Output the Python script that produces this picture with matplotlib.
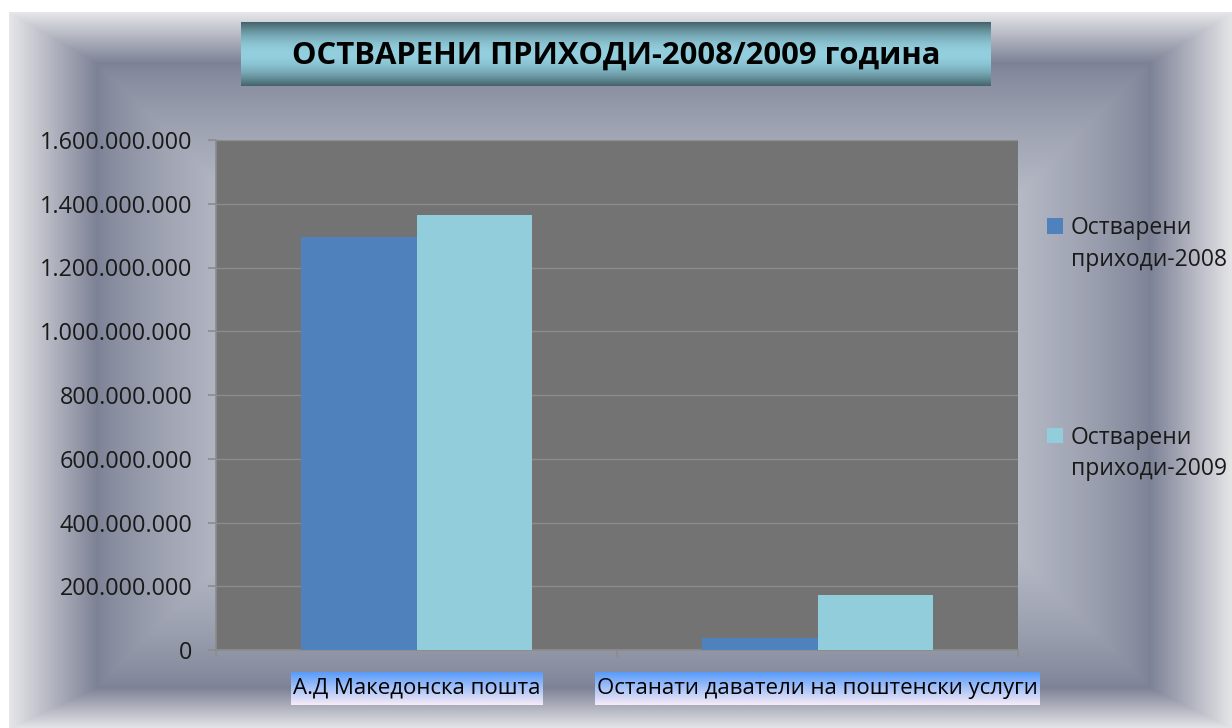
import numpy as np
import matplotlib
matplotlib.use("Agg")
import matplotlib.pyplot as plt
from matplotlib.colors import to_rgb
from matplotlib.ticker import FuncFormatter, FixedLocator

# ---------------- data ----------------
categories = ["А.Д Македонска пошта", "Останати даватели на поштенски услуги"]
series_names = ["Остварени приходи-2008", "Остварени приходи-2009"]
values_2008 = [1295000000, 37000000]
values_2009 = [1365000000, 172000000]
y_ticks = [0, 200000000, 400000000, 600000000, 800000000, 1000000000,
           1200000000, 1400000000, 1600000000]
title = "ОСТВАРЕНИ ПРИХОДИ-2008/2009 година"

plt.rcParams['font.family'] = ['Open Sans', 'DejaVu Sans']

W, H = 1232, 728
DPI = 100
fig = plt.figure(figsize=(W / DPI, H / DPI), dpi=DPI, facecolor='white')

def fx(px):
    return px / W

def fy(py):
    return 1 - py / H

# ---------------- background bevel gradient ----------------
yy, xx = np.mgrid[0:H, 0:W].astype(float)
x0, x1, y0, y1 = 9, 1232, 12, 728
xi0, xi1, yi0, yi1 = 97, 1149, 63, 687
outer = np.array(to_rgb('#e6e6e9'))
dark = np.array(to_rgb('#7c8195'))
center = np.array(to_rgb('#b5b9c5'))
u = np.minimum.reduce([(xx - x0) / (xi0 - x0), (x1 - xx) / (x1 - xi1),
                       (yy - y0) / (yi0 - y0), (y1 - yy) / (y1 - yi1)])
v = np.minimum.reduce([xx - xi0, xi1 - xx, yy - yi0, yi1 - yy]) / 130.0
img = np.ones((H, W, 3))
band = (u >= 0) & (u < 1)
ub = np.clip(u, 0, 1)[..., None]
col_band = outer + (dark - outer) * ub
vb = np.clip(v, 0, 1)[..., None] ** 0.75
col_in = dark + (center - dark) * vb
inside = u >= 1
img[band] = col_band[band]
img[inside] = col_in[inside]
bg = fig.add_axes([0, 0, 1, 1], zorder=-10)
bg.imshow(img, aspect='auto', extent=[0, 1, 0, 1], interpolation='bilinear')
bg.set_axis_off()

# ---------------- title box ----------------
tb = fig.add_axes([fx(241), fy(86), fx(991) - fx(241), fy(22) - fy(86)], zorder=1)
t = np.linspace(0, 1, 64)
prof = np.sin(np.pi * t) ** 0.9
tdark = np.array(to_rgb('#44636b'))
tlight = np.array(to_rgb('#93cfde'))
tgrad = tdark + (tlight - tdark) * prof[:, None]
tb.imshow(tgrad[:, None, :].repeat(4, axis=1), aspect='auto',
          extent=[0, 1, 0, 1], interpolation='bilinear')
tb.set_axis_off()
fig.text(fx(616), fy(56), title, ha='center', va='center', fontsize=22.3,
         fontweight='bold', color='black', zorder=5,
         family=['Open Sans', 'DejaVu Sans'])

# ---------------- main plot ----------------
ax = fig.add_axes([fx(216), fy(650), fx(1018) - fx(216), fy(140) - fy(650)], zorder=2)
ax.set_facecolor('#737373')
x = np.arange(len(categories))
w = 0.287
b1 = ax.bar(x - w / 2, values_2008, w, color='#4f81bd', label=series_names[0], zorder=3)
b2 = ax.bar(x + w / 2, values_2009, w, color='#92cddc', label=series_names[1], zorder=3)
ax.set_xlim(-0.5, len(categories) - 0.5)
ax.set_ylim(0, 1600000000)
ax.set_yticks(y_ticks)
ax.yaxis.set_major_formatter(FuncFormatter(lambda v, p: f"{int(v):,}".replace(',', '.')))
ax.yaxis.grid(True, color='#8c8c8c', lw=1.0)
ax.set_axisbelow(True)
for s in ['top', 'right']:
    ax.spines[s].set_visible(False)
for s in ['left', 'bottom']:
    ax.spines[s].set_color('#8c8c8c')
    ax.spines[s].set_linewidth(1.2)
ax.tick_params(axis='y', length=6, width=1.2, color='#8c8c8c', pad=11,
               labelsize=16.8, labelcolor='#1a1a1a')
ax.set_xticks(x)
ax.set_xticklabels(categories)
ax.xaxis.set_minor_locator(FixedLocator([-0.5, 0.5, 1.5]))
ax.tick_params(axis='x', which='major', length=0, pad=20, labelsize=16, labelcolor='black')
ax.tick_params(axis='x', which='minor', length=5, width=1.2, color='#8c8c8c')

# legend
leg = ax.legend([b1, b2], ["Остварени", "Остварени"], loc='upper left',
                bbox_to_anchor=(fx(1047), fy(216)), bbox_transform=fig.transFigure,
                frameon=False, fontsize=16.5, handlelength=0.68, handleheight=0.68,
                handletextpad=0.35, labelspacing=8.1, borderpad=0, borderaxespad=0)
for txt, name in zip(leg.get_texts(), series_names):
    txt.set_color('#1a1a1a')
    ax.annotate(name.split(' ', 1)[1], xy=(0, 0), xycoords=txt, xytext=(0, -5.5),
                textcoords='offset points', va='top', ha='left', fontsize=16.5,
                color='#1a1a1a', annotation_clip=False)

# gradient boxes behind category labels
fig.canvas.draw()
renderer = fig.canvas.get_renderer()
lab_top = np.array(to_rgb('#5a9cfa'))
lab_bot = np.array(to_rgb('#f6eaf6'))
lg = lab_top + (lab_bot - lab_top) * np.linspace(0, 1, 32)[:, None]
for lbl in ax.get_xticklabels():
    bb = lbl.get_window_extent(renderer)
    bx0, bx1 = bb.x0 - 2, bb.x1 + 2
    cy = (bb.y0 + bb.y1) / 2
    by0, by1 = cy - 16.5, cy + 16.5
    la = fig.add_axes([bx0 / W, by0 / H, (bx1 - bx0) / W, (by1 - by0) / H], zorder=1)
    la.imshow(lg[:, None, :].repeat(4, axis=1), aspect='auto', extent=[0, 1, 0, 1],
              interpolation='bilinear')
    la.set_axis_off()

fig.savefig('out.png', dpi=DPI, facecolor='white')
